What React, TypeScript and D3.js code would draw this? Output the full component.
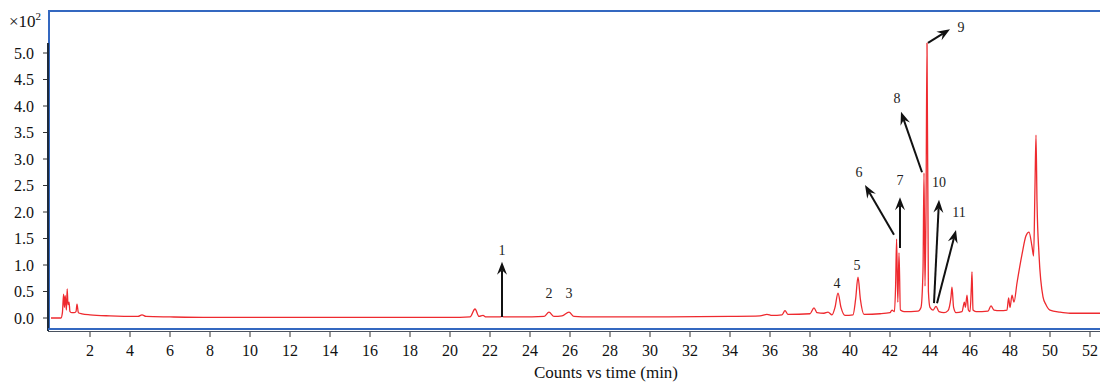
import React from "react";
import * as d3 from "d3";

// retention time (min)
const times: number[] = [
  0.05, 0.55, 0.62, 0.68, 0.72, 0.76, 0.82, 0.86, 0.9, 0.95, 1.0, 1.1, 1.2, 1.3, 1.35, 1.42, 1.6, 2.0, 3.0, 4.4, 4.6, 4.8,
  6.0, 8.0, 12.0, 16.0, 20.0, 21.0, 21.25, 21.45, 21.65, 21.8, 22.5, 22.6, 22.7, 23.5, 24.7, 24.95, 25.2, 25.6, 25.95, 26.2,
  27.0, 30.0, 34.0, 35.5, 35.85, 36.1, 36.6, 36.75, 36.9, 38.0, 38.2, 38.35, 38.7, 38.9, 39.1, 39.25, 39.4, 39.55, 39.75,
  40.15, 40.28, 40.4, 40.52, 40.7, 41.5, 42.0, 42.1, 42.22, 42.28, 42.33, 42.39, 42.45, 42.52, 42.7, 43.4, 43.55, 43.65,
  43.7, 43.75, 43.8, 43.85, 43.92, 44.0, 44.15, 44.3, 44.45, 44.7, 44.9, 45.05, 45.1, 45.18, 45.3, 45.6, 45.72, 45.77,
  45.85, 45.92, 46.0, 46.07, 46.1, 46.15, 46.3, 46.9, 47.05, 47.2, 47.5, 47.85, 47.93, 48.0, 48.1, 48.2, 48.35, 48.6,
  48.8, 48.95, 49.1, 49.18, 49.25, 49.3, 49.35, 49.45, 49.65, 49.8, 50.0, 50.5, 51.0, 52.5,
];
// counts (x10^2)
const counts: number[] = [
  0.0, 0.0, 0.1, 0.45, 0.2, 0.42, 0.15, 0.55, 0.25, 0.3, 0.12, 0.1, 0.1, 0.12, 0.26, 0.1, 0.08, 0.06, 0.04, 0.03, 0.06, 0.03,
  0.02, 0.01, 0.01, 0.01, 0.01, 0.02, 0.17, 0.03, 0.05, 0.02, 0.02, 0.03, 0.02, 0.02, 0.03, 0.11, 0.03, 0.04, 0.11, 0.03,
  0.02, 0.02, 0.03, 0.04, 0.07, 0.05, 0.06, 0.14, 0.07, 0.08, 0.19, 0.1, 0.09, 0.11, 0.06, 0.2, 0.47, 0.2, 0.05,
  0.06, 0.35, 0.77, 0.35, 0.07, 0.08, 0.1, 0.15, 0.12, 0.6, 1.49, 0.3, 1.23, 0.15, 0.12, 0.13, 0.2, 0.9,
  2.74, 0.6, 2.0, 5.19, 0.5, 0.2, 0.15, 0.22, 0.12, 0.1, 0.14, 0.4, 0.58, 0.2, 0.1, 0.12, 0.3, 0.2,
  0.43, 0.15, 0.12, 0.6, 0.87, 0.15, 0.12, 0.13, 0.23, 0.15, 0.14, 0.15, 0.38, 0.2, 0.43, 0.3, 0.66, 1.2,
  1.55, 1.62, 1.35, 1.17, 2.5, 3.45, 2.2, 1.2, 0.4, 0.25, 0.15, 0.11, 0.09, 0.09,
];

const xTicks: number[] = [2, 4, 6, 8, 10, 12, 14, 16, 18, 20, 22, 24, 26, 28, 30, 32, 34, 36, 38, 40, 42, 44, 46, 48, 50, 52];
const yTicks: number[] = [0, 0.5, 1, 1.5, 2, 2.5, 3, 3.5, 4, 4.5, 5];

// arrow annotations: label, tail (t, v), head (t, v), label position (t, v)
const arrowLabels: string[] = ["1", "6", "7", "8", "9", "10", "11"];
const arrowTail: [number, number][] = [[22.6, 0.02], [42.2, 1.57], [42.5, 1.32], [43.6, 2.75], [43.9, 5.19], [44.2, 0.28], [44.35, 0.28]];
const arrowHead: [number, number][] = [[22.6, 1.06], [40.75, 2.51], [42.5, 2.28], [42.55, 3.89], [45.0, 5.45], [44.45, 2.23], [45.3, 1.66]];
const arrowLabelPos: [number, number][] = [[22.6, 1.28], [40.45, 2.74], [42.5, 2.6], [42.35, 4.15], [45.55, 5.49], [44.45, 2.55], [45.45, 2.0]];

// plain peak labels
const peakLabels: string[] = ["2", "3", "4", "5"];
const peakLabelPos: [number, number][] = [[24.95, 0.47], [25.95, 0.47], [39.35, 0.66], [40.35, 1.0]];

const W = 1100;
const H = 385;
const FONT = "'Liberation Serif', 'Times New Roman', serif";
const BLUE = "#3468c0";

export default function App() {
  const x = d3.scaleLinear().domain([0, 52]).range([50, 1090]);
  const y = d3.scaleLinear().domain([0, 5]).range([318, 53]);
  const data = times.map((t, i) => [t, counts[i]] as [number, number]);
  const line = d3
    .line<[number, number]>()
    .x((d) => x(d[0]))
    .y((d) => y(d[1]))
    .curve(d3.curveMonotoneX);

  const arrow = (i: number) => {
    const x1 = x(arrowTail[i][0]);
    const y1 = y(arrowTail[i][1]);
    const x2 = x(arrowHead[i][0]);
    const y2 = y(arrowHead[i][1]);
    const ang = Math.atan2(y2 - y1, x2 - x1);
    const L = 13;
    const Wd = 5;
    const bx = x2 - L * Math.cos(ang);
    const by = y2 - L * Math.sin(ang);
    const nx = -Math.sin(ang);
    const ny = Math.cos(ang);
    const mx = x2 - (L * 0.65) * Math.cos(ang);
    const my = y2 - (L * 0.65) * Math.sin(ang);
    const pts = [
      [x2, y2],
      [bx + nx * Wd, by + ny * Wd],
      [mx, my],
      [bx - nx * Wd, by - ny * Wd],
    ];
    return (
      <g key={"a" + i}>
        <line x1={x1} y1={y1} x2={mx} y2={my} stroke="#111" strokeWidth={2} />
        <polygon points={pts.map((p) => p.join(",")).join(" ")} fill="#111" />
        <text
          x={x(arrowLabelPos[i][0])}
          y={y(arrowLabelPos[i][1])}
          fontSize={14}
          textAnchor="middle"
          dominantBaseline="central"
          fill="#222"
        >
          {arrowLabels[i]}
        </text>
      </g>
    );
  };

  return (
    <svg
      width={W}
      height={H}
      style={{ position: "fixed", left: 0, top: 0, background: "#fff" }}
      fontFamily={FONT}
    >
      {/* frame */}
      <line x1={48} y1={11} x2={W} y2={11} stroke={BLUE} strokeWidth={2} />
      <line x1={49} y1={11} x2={49} y2={330} stroke={BLUE} strokeWidth={2} />
      <line x1={48} y1={43} x2={48} y2={331} stroke="#1d2a3a" strokeWidth={2} />
      <line x1={48} y1={329} x2={W} y2={329} stroke={BLUE} strokeWidth={2} />
      <line x1={48} y1={331.5} x2={W} y2={331.5} stroke="#4a5260" strokeWidth={1.2} />

      {/* y axis */}
      {yTicks.map((v) => (
        <g key={"y" + v}>
          <line x1={43} x2={47} y1={y(v)} y2={y(v)} stroke="#333" strokeWidth={1} />
          <text x={34} y={y(v)} fontSize={16} textAnchor="end" dominantBaseline="central" fill="#111">
            {d3.format(".1f")(v)}
          </text>
        </g>
      ))}
      <text x={9} y={27} fontSize={17} fill="#111">
        ×10<tspan fontSize={11} dy={-7}>2</tspan>
      </text>

      {/* x axis */}
      {xTicks.map((t) => (
        <g key={"x" + t}>
          <line x1={x(t)} x2={x(t)} y1={332} y2={337} stroke="#333" strokeWidth={1} />
          <text x={x(t)} y={356} fontSize={16} textAnchor="middle" fill="#111">
            {t}
          </text>
        </g>
      ))}
      <text x={606} y={378} fontSize={17} textAnchor="middle" fill="#111">
        Counts vs time (min)
      </text>

      {/* chromatogram */}
      <path d={line(data) || ""} fill="none" stroke="#ee2a2f" strokeWidth={1.3} strokeLinejoin="round" />

      {/* annotations */}
      {peakLabels.map((lab, i) => (
        <text
          key={"p" + i}
          x={x(peakLabelPos[i][0])}
          y={y(peakLabelPos[i][1])}
          fontSize={14}
          textAnchor="middle"
          dominantBaseline="central"
          fill="#222"
        >
          {lab}
        </text>
      ))}
      {arrowLabels.map((_, i) => arrow(i))}
    </svg>
  );
}
